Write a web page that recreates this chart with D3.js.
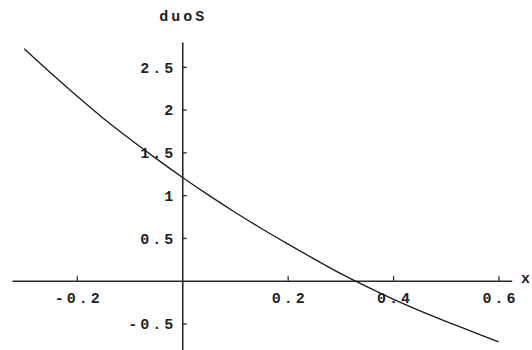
<!DOCTYPE html>
<html>
<head>
<meta charset="utf-8">
<script src="https://cdn.jsdelivr.net/npm/d3@7"></script>
<style>
  html, body { margin: 0; padding: 0; background: #fff; }
  svg { display: block; }
  .lbl { font-family: "Liberation Mono", "DejaVu Sans Mono", monospace; font-size: 15px; font-weight: bold; fill: #222; letter-spacing: 3px; }
</style>
</head>
<body>
<svg id="chart" width="532" height="350"></svg>
<script>
// duoS as a function of x
const xValues    = [-0.30, -0.25, -0.20, -0.15, -0.10, -0.05, 0.00, 0.05, 0.10, 0.15, 0.20, 0.25, 0.30, 0.35, 0.40, 0.45, 0.50, 0.55, 0.60];
const duoSValues = [ 2.71,  2.43,  2.16,  1.90,  1.66,  1.43, 1.21, 1.00, 0.80, 0.61, 0.43, 0.255, 0.085, -0.07, -0.215, -0.35, -0.475, -0.595, -0.715];

// Axis ticks
const xMajorTicks = [-0.2, 0.2, 0.4, 0.6];
const xTickLabels = ["-0.2", "0.2", "0.4", "0.6"];
const xMinorTicks = [-0.30, -0.25, -0.15, -0.10, -0.05, 0.05, 0.10, 0.15, 0.25, 0.30, 0.35, 0.45, 0.50, 0.55];
const yMajorTicks = [-0.5, 0.5, 1, 1.5, 2, 2.5];
const yTickLabels = ["-0.5", "0.5", "1", "1.5", "2", "2.5"];
const yMinorTicks = [-0.8, -0.7, -0.6, -0.4, -0.3, -0.2, -0.1, 0.1, 0.2, 0.3, 0.4, 0.6, 0.7, 0.8, 0.9,
                     1.1, 1.2, 1.3, 1.4, 1.6, 1.7, 1.8, 1.9, 2.1, 2.2, 2.3, 2.4, 2.6, 2.7];

const svg = d3.select("#chart");

const x = d3.scaleLinear().domain([-0.323, 0.625]).range([12, 511.7]);
const y = d3.scaleLinear().domain([-0.81, 2.79]).range([350, 42]);

const axisColor = "#2a2a2a";

// x axis through y = 0, ticks pointing up
const gx = svg.append("g").attr("transform", `translate(0,${y(0)})`);
gx.call(d3.axisBottom(x).tickValues(xMinorTicks).tickSize(-2.5).tickSizeOuter(0).tickFormat(""));
gx.call(d3.axisBottom(x).tickValues(xMajorTicks).tickSize(-4.5).tickSizeOuter(0).tickPadding(12)
  .tickFormat((d, i) => xTickLabels[i]));

// y axis through x = 0, ticks pointing right
const gy = svg.append("g").attr("transform", `translate(${x(0)},0)`);
gy.call(d3.axisLeft(y).tickValues(yMinorTicks).tickSize(-2.5).tickSizeOuter(0).tickFormat(""));
gy.call(d3.axisLeft(y).tickValues(yMajorTicks).tickSize(-4.5).tickSizeOuter(0).tickPadding(6)
  .tickFormat((d, i) => yTickLabels[i]));

svg.selectAll(".domain").attr("stroke", axisColor).attr("stroke-width", 1.6);
svg.selectAll(".tick line").attr("stroke", axisColor).attr("stroke-width", 1.3);
svg.selectAll(".tick text").attr("class", "lbl").attr("font-family", null).attr("font-size", null);
gx.selectAll(".tick text").attr("dx", 1.5);
gy.selectAll(".tick text").attr("dy", "0.35em");

// axis names
svg.append("text").attr("class", "lbl")
  .attr("x", x(0) + 1).attr("y", 21).attr("text-anchor", "middle").text("duoS");
svg.append("text").attr("class", "lbl")
  .attr("x", 521).attr("y", y(0) + 2).text("x");

// curve
const line = d3.line()
  .x((d, i) => x(xValues[i]))
  .y(d => y(d))
  .curve(d3.curveMonotoneX);

svg.append("path")
  .datum(duoSValues)
  .attr("d", line)
  .attr("fill", "none")
  .attr("stroke", "#1a1a1a")
  .attr("stroke-width", 1.3);
</script>
</body>
</html>
